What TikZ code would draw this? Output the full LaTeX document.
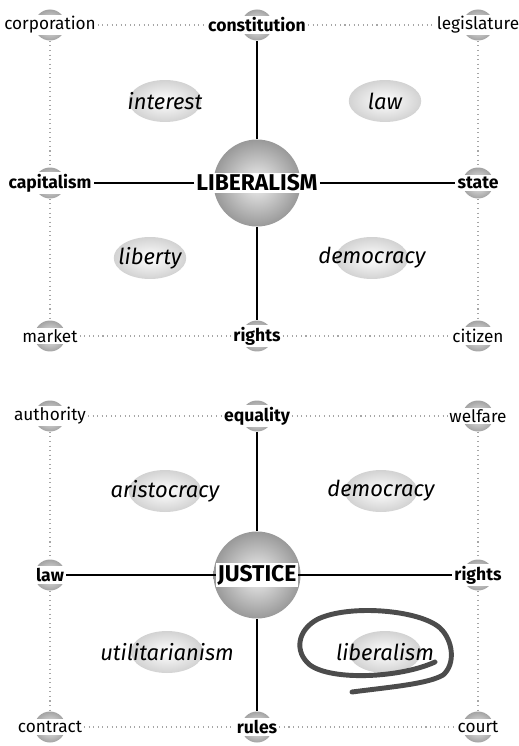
\documentclass[tikz,border=0pt]{standalone}
\usepackage{fontspec}
\setmainfont{Fira Sans}
\usetikzlibrary{shapes.geometric}

\tikzset{
  smallball/.style={circle, minimum size=0.62cm, inner sep=0pt,
    inner color=gray!10, outer color=gray!72},
  bigball/.style={circle, minimum size=1.74cm, inner sep=0pt,
    inner color=gray!12, outer color=gray!80},
  blob/.style={ellipse, minimum width=1.45cm, minimum height=0.84cm,
    inner sep=0pt, inner color=white, outer color=gray!35},
  word/.style={fill=white, inner sep=1pt, font=\fontsize{9.8}{11}\selectfont},
  keyword/.style={fill=white, inner sep=1pt, font=\fontsize{10}{11}\selectfont\bfseries},
  hubword/.style={fill=white, inner sep=1pt, font=\fontsize{13}{14}\selectfont\bfseries},
  region/.style={font=\fontsize{12.5}{14}\selectfont\itshape},
  dots/.style={gray!70, dotted, line width=0.6pt},
  spoke/.style={line width=0.8pt},
  brush/.style={black!70, line width=2.8pt, line cap=round}
}

\begin{document}
\begin{tikzpicture}[x=0.02cm, y=-0.02cm]  % one unit = one pixel of the layout
  \useasboundingbox (0,0) rectangle (518,746);

  % ---------- upper map: LIBERALISM ----------
  % shaded regions
  \foreach \id/\x/\y/\txt in {in/165/101/interest, la/385/101/law,
                              lb/150/258/liberty, de/372/258/democracy} {
    \node[blob] (b\id) at (\x,\y) {};
    \node[region] (r\id) at (\x,\y) {\txt};
  }

  % corner terms
  \foreach \id/\x/\y/\txt in {co/50/25/corporation, le/478/25/legislature,
                              ma/50/336/market, ci/478/336/citizen} {
    \node[smallball] (s\id) at (\x,\y) {};
    \node[word] (l\id) at (\x,\y) {\txt};
  }

  % middle terms
  \foreach \id/\x/\y/\txt in {cn/257/25/constitution, ri/257/336/rights,
                              ca/50/183/capitalism, st/478/183/state} {
    \node[smallball] (s\id) at (\x,\y) {};
    \node[keyword] (l\id) at (\x,\y) {\txt};
  }

  % hub
  \node[bigball] (sli) at (257,183) {};
  \node[hubword] (lli) at (257,183) {LIBERALISM};

  % dotted frame
  \draw[dots] (lco) -- (lcn);
  \draw[dots] (lcn) -- (lle);
  \draw[dots] (lma) -- (lri);
  \draw[dots] (lri) -- (lci);
  \draw[dots] (sco) -- (sca);
  \draw[dots] (sca) -- (sma);
  \draw[dots] (sle) -- (sst);
  \draw[dots] (sst) -- (sci);

  % spokes
  \draw[spoke] (sli) -- (scn);
  \draw[spoke] (sli) -- (sri);
  \draw[spoke] (lli) -- (lca);
  \draw[spoke] (lli) -- (lst);

  % ---------- lower map: JUSTICE ----------
  % shaded regions
  \foreach \id/\x/\y/\txt in {ar/165/491/aristocracy, dm/381/491/democracy,
                              ut/167/652/utilitarianism, lm/385/652/liberalism} {
    \node[blob] (b\id) at (\x,\y) {};
    \node[region] (r\id) at (\x,\y) {\txt};
  }

  % corner terms
  \foreach \id/\x/\y/\txt in {au/50/416/authority, we/478/416/welfare,
                              cr/50/727/contract, cu/478/727/court} {
    \node[smallball] (s\id) at (\x,\y) {};
    \node[word] (l\id) at (\x,\y) {\txt};
  }

  % middle terms
  \foreach \id/\x/\y/\txt in {eq/257/416/equality, ru/257/727/rules,
                              lw/50/575/law, rt/478/575/rights} {
    \node[smallball] (s\id) at (\x,\y) {};
    \node[keyword] (l\id) at (\x,\y) {\txt};
  }

  % hub
  \node[bigball] (sju) at (257,575) {};
  \node[hubword] (lju) at (257,575) {JUSTICE};

  % dotted frame
  \draw[dots] (lau) -- (leq);
  \draw[dots] (leq) -- (lwe);
  \draw[dots] (lcr) -- (lru);
  \draw[dots] (lru) -- (lcu);
  \draw[dots] (sau) -- (slw);
  \draw[dots] (slw) -- (scr);
  \draw[dots] (swe) -- (srt);
  \draw[dots] (srt) -- (scu);

  % spokes
  \draw[spoke] (sju) -- (seq);
  \draw[spoke] (sju) -- (sru);
  \draw[spoke] (lju) -- (llw);
  \draw[spoke] (lju) -- (lrt);

  % hand-drawn loop round liberalism
  \draw[brush] (352,692) .. controls (390,687) and (428,684) .. (443,675)
    .. controls (456,664) and (453,640) .. (440,628)
    .. controls (420,610) and (350,604) .. (318,619)
    .. controls (297,630) and (294,652) .. (310,665)
    .. controls (332,681) and (400,678) .. (435,662);
\end{tikzpicture}
\end{document}
